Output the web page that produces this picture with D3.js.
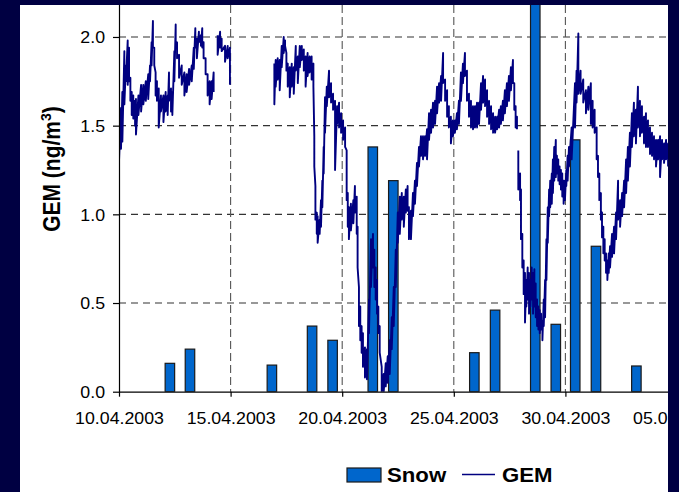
<!DOCTYPE html>
<html><head><meta charset="utf-8">
<script src="https://cdn.jsdelivr.net/npm/d3@7"></script>
<style>html,body{margin:0;padding:0;background:#fff;} svg{display:block;}</style>
</head><body>
<svg id="c" width="679" height="492"></svg>
<script>
// ---------- data ----------
const startDate = "10.04.2003";
const endDate = "05.05.2003";
const xTickLabels = ["10.04.2003","15.04.2003","20.04.2003","25.04.2003","30.04.2003","05.05.2003"];
const yTicks = [0, 0.5, 1.0, 1.5, 2.0];
const yTickLabels = ["0.0","0.5","1.0","1.5","2.0"];
const yMax = 2.2;

// Snow bars: days after 10.04.2003 00:00, value
const snowDay   = [2.28, 3.18, 6.85, 8.65, 9.57, 11.37, 12.29, 15.92, 16.85, 18.65, 19.57, 20.44, 21.37, 23.18];
const snowValue = [0.16, 0.24, 0.15, 0.37, 0.29, 1.38, 1.19, 0.22, 0.46, 2.50, 0.38, 1.42, 0.82, 0.145];

// GEM: days after 10.04.2003 00:00, upper and lower value of the noisy trace (null = data gap)
const gemDay = [
 0.00,0.09,0.15,0.24,0.31,0.39,0.45,0.51,0.57,0.64,0.72,0.76,0.87,0.99,1.09,1.20,1.31,1.39,1.46,1.52,1.58,1.64,1.70,1.78,1.88,1.99,2.09,2.18,2.24,2.33,2.39,2.48,2.54,2.60,2.69,2.81,2.93,3.03,3.14,3.26,3.35,3.42,3.49,3.58,3.67,3.73,3.79,3.88,3.97,4.06,4.15,4.24,
 4.33,
 4.42,4.53,4.60,4.75,4.87,4.97,
 5.90,
 6.96,7.02,7.11,7.20,7.29,7.38,7.44,7.50,7.56,7.65,7.74,7.83,7.92,8.01,8.10,8.19,8.28,8.36,8.45,8.54,8.63,8.71,8.75,8.80,8.86,8.90,8.99,9.05,9.11,9.17,9.23,9.31,9.41,9.50,9.59,9.68,9.77,9.86,9.95,10.04,10.13,
 10.20,10.25,10.30,10.39,10.50,10.57,10.65,10.69,10.75,10.81,10.87,10.93,11.02,11.11,11.20,11.29,11.38,11.44,11.50,11.56,11.62,11.68,11.77,11.86,11.95,12.04,12.13,12.22,12.31,12.40,12.49,12.58,12.67,12.76,12.85,12.93,
 12.99,13.08,13.17,13.26,13.35,13.44,13.53,13.62,13.71,13.80,13.89,13.98,14.07,14.16,14.25,14.34,14.43,14.52,14.61,14.70,14.78,14.87,14.96,15.05,15.14,15.23,15.32,15.41,15.50,15.59,15.68,15.77,15.86,15.95,16.04,16.13,16.22,16.31,16.40,16.49,16.58,16.67,16.76,16.85,16.94,17.03,17.11,17.20,17.29,17.38,17.47,17.56,17.65,17.71,17.77,17.83,
 17.86,
 17.89,17.97,18.01,18.07,18.13,18.19,18.25,18.31,18.37,18.43,18.49,18.55,18.61,18.67,18.73,18.79,18.85,18.91,18.97,19.03,19.09,19.15,19.21,19.27,19.32,19.39,19.44,19.50,19.57,19.62,19.68,19.74,19.80,19.86,19.92,19.98,20.04,20.10,20.16,20.28,20.43,20.50,20.58,20.68,20.80,20.92,21.03,21.14,21.22,21.31,21.40,21.46,21.52,21.59,21.64,21.70,21.76,21.82,21.88,21.94,22.00,22.09,22.18,22.27,22.36,22.45,22.54,22.63,22.72,22.80,22.89,22.98,23.07,23.16,23.25,23.34,23.43,23.52,23.61,23.70,23.79,23.88,23.97,24.06,24.15,24.24,24.33,24.42,24.51,24.60
];
const gemHi = [
 1.56,1.60,1.69,1.92,1.84,1.98,1.94,1.77,1.69,1.67,1.64,1.65,1.67,1.73,1.73,1.75,1.79,1.84,1.97,2.09,1.94,1.80,1.75,1.71,1.67,1.67,1.69,1.67,1.80,1.71,1.69,1.92,2.07,1.97,1.90,1.84,1.80,1.79,1.82,1.84,1.94,2.05,1.99,2.03,2.01,2.05,1.97,1.88,1.79,1.75,1.75,1.80,
 null,
 2.01,2.03,1.99,1.95,1.95,1.94,
 null,
 1.85,1.87,1.88,1.87,1.95,2.00,1.98,1.91,1.85,1.83,1.85,1.83,1.95,1.89,1.95,1.95,1.93,1.89,1.91,1.89,1.89,1.85,1.44,1.16,1.01,0.99,0.97,1.08,1.19,1.38,1.66,1.72,1.81,1.74,1.68,1.64,1.61,1.63,1.57,1.53,1.49,
 1.36,1.12,1.04,1.06,1.08,1.16,1.10,0.93,0.59,0.48,0.37,0.33,0.25,0.24,0.52,0.86,0.89,0.80,0.70,0.63,0.48,0.37,0.14,0.10,0.16,0.20,0.29,0.42,0.59,0.80,1.01,1.10,1.12,1.10,1.14,1.16,
 1.04,1.02,1.12,1.19,1.29,1.38,1.44,1.44,1.44,1.48,1.57,1.59,1.63,1.64,1.72,1.74,1.78,1.91,1.76,1.70,1.61,1.55,1.53,1.53,1.57,1.64,1.80,1.85,1.91,1.81,1.68,1.64,1.61,1.61,1.63,1.63,1.74,1.78,1.76,1.70,1.64,1.61,1.57,1.55,1.55,1.59,1.61,1.64,1.70,1.74,1.78,1.83,1.87,1.74,1.61,1.55,
 null,
 1.36,1.23,1.14,0.89,0.74,0.67,0.63,0.70,0.67,0.63,0.70,0.67,0.69,0.61,0.52,0.48,0.46,0.44,0.40,0.52,0.63,0.86,1.04,1.14,1.19,1.23,1.31,1.38,1.42,1.33,1.31,1.27,1.25,1.23,1.19,1.19,1.25,1.33,1.38,1.49,1.74,1.81,2.02,1.81,1.76,1.70,1.72,1.74,1.64,1.59,1.49,1.33,1.23,1.12,1.01,0.93,0.86,0.78,0.74,0.78,0.82,0.89,0.93,1.01,1.19,1.08,1.12,1.19,1.31,1.38,1.46,1.57,1.63,1.59,1.72,1.64,1.61,1.55,1.57,1.53,1.49,1.46,1.44,1.42,1.42,1.44,1.42,1.40,1.42,1.40
];
const gemLo = [
 1.30,1.37,1.41,1.62,1.75,1.73,1.75,1.64,1.56,1.54,1.50,1.45,1.56,1.58,1.62,1.64,1.65,1.75,1.84,1.94,1.84,1.67,1.64,1.49,1.58,1.52,1.58,1.56,1.64,1.58,1.56,1.75,1.95,1.88,1.77,1.73,1.67,1.69,1.73,1.75,1.82,1.94,1.88,1.97,1.95,1.94,1.88,1.79,1.67,1.62,1.65,1.69,
 null,
 1.90,1.94,1.92,1.86,1.88,1.73,
 null,
 1.62,1.72,1.76,1.70,1.83,1.91,1.95,1.81,1.72,1.66,1.72,1.68,1.81,1.74,1.83,1.87,1.81,1.72,1.78,1.80,1.76,1.72,1.27,0.97,0.89,0.84,0.89,0.93,1.04,1.23,1.46,1.61,1.66,1.63,1.59,1.25,1.51,1.49,1.46,1.42,1.38,
 1.08,0.93,0.86,0.91,0.95,1.01,0.89,0.70,0.37,0.29,0.22,0.14,0.08,0.07,0.33,0.59,0.70,0.59,0.52,0.44,0.33,0.22,0.00,0.00,0.03,0.05,0.10,0.24,0.37,0.59,0.84,0.89,0.97,0.93,1.01,1.02,
 0.86,0.86,0.99,1.06,1.16,1.27,1.33,1.31,1.33,1.31,1.42,1.46,1.49,1.51,1.57,1.63,1.64,1.74,1.64,1.55,1.49,1.40,1.44,1.46,1.48,1.51,1.64,1.74,1.78,1.64,1.55,1.49,1.48,1.49,1.49,1.51,1.59,1.63,1.61,1.55,1.51,1.48,1.46,1.46,1.48,1.49,1.51,1.53,1.57,1.61,1.64,1.70,1.74,1.59,1.49,1.48,
 null,
 1.14,1.08,0.86,0.70,0.55,0.39,0.48,0.52,0.44,0.48,0.52,0.44,0.48,0.42,0.37,0.35,0.33,0.35,0.29,0.37,0.42,0.63,0.84,0.99,1.04,1.06,1.12,1.19,1.21,1.23,1.19,1.17,1.14,1.10,1.06,1.08,1.16,1.19,1.27,1.31,1.49,1.63,1.68,1.68,1.63,1.57,1.59,1.51,1.49,1.46,1.31,1.21,1.08,0.97,0.87,0.78,0.74,0.67,0.63,0.67,0.70,0.76,0.78,0.86,0.97,0.93,0.99,1.04,1.12,1.19,1.27,1.38,1.44,1.40,1.49,1.44,1.46,1.40,1.38,1.38,1.34,1.33,1.31,1.27,1.31,1.21,1.31,1.29,1.31,1.27
];

// ---------- drawing ----------
const W = 679, H = 492;
const plot = {left: 119, right: 668, top: 5, bottom: 391.7};
const parse = d3.utcParse("%d.%m.%Y");
const t0 = parse(startDate), t1 = parse(endDate);
const dayToDate = d => new Date(t0.getTime() + d * 864e5);

const x = d3.scaleUtc().domain([t0, t1]).range([119, 677]);
const y = d3.scaleLinear().domain([0, yMax]).range([plot.bottom, 1.5]);

const svg = d3.select("#c");
svg.append("rect").attr("width", W).attr("height", H).attr("fill", "#fff");

const defs = svg.append("defs");
defs.append("clipPath").attr("id", "clip").append("rect")
  .attr("x", plot.left).attr("y", 0).attr("width", plot.right - plot.left).attr("height", plot.bottom);

// grid
const tickDates = xTickLabels.map(parse);
svg.append("g").selectAll("line").data(yTicks.filter(v => v > 0)).join("line")
  .attr("x1", plot.left).attr("x2", plot.right)
  .attr("y1", d => y(d)).attr("y2", d => y(d))
  .attr("stroke", "#333").attr("stroke-width", 1.1).attr("stroke-dasharray", "7,5");
svg.append("g").selectAll("line").data(tickDates.slice(1)).join("line")
  .attr("x1", d => x(d)).attr("x2", d => x(d))
  .attr("y1", plot.top).attr("y2", plot.bottom)
  .attr("stroke", "#555").attr("stroke-width", 1.1).attr("stroke-dasharray", "8,4");

const gPlot = svg.append("g").attr("clip-path", "url(#clip)");

// bars
const bw = 9.5;
gPlot.selectAll("rect.snow").data(snowDay.map((d, i) => ({t: dayToDate(d), v: snowValue[i]}))).join("rect")
  .attr("class", "snow")
  .attr("x", d => x(d.t) - bw / 2).attr("width", bw)
  .attr("y", d => y(d.v)).attr("height", d => y(0) - y(d.v))
  .attr("fill", "#0066CC").attr("stroke", "#1a1a1a").attr("stroke-width", 1.2);

// GEM line
const pts = [];
gemDay.forEach((d, i) => {
  if (gemHi[i] == null) { pts.push({t: dayToDate(d), v: null}); return; }
  pts.push({t: dayToDate(d), v: gemHi[i]});
  pts.push({t: dayToDate(d), v: gemLo[i]});
});
const line = d3.line().defined(d => d.v != null).x(d => x(d.t)).y(d => y(d.v));
gPlot.append("path").datum(pts).attr("d", line)
  .attr("fill", "none").attr("stroke", "#000080").attr("stroke-width", 1.9).attr("stroke-linejoin", "round");

// axes
const font = "'Liberation Sans', Arial, sans-serif";
const yAxis = svg.append("g").attr("transform", `translate(${plot.left},0)`)
  .call(d3.axisLeft(y).tickValues(yTicks).tickFormat((d, i) => yTickLabels[i]).tickSize(6).tickSizeOuter(0));
yAxis.select(".domain").attr("stroke", "#000").attr("stroke-width", 1.2);
yAxis.selectAll(".tick line").attr("stroke", "#000").attr("stroke-width", 1.2);
yAxis.selectAll(".tick text").attr("x", 0).attr("dy", "0.36em")
  .attr("transform", "translate(-14,0) scale(1.11,1)")
  .attr("font-family", font).attr("font-size", 16).attr("fill", "#000");

const xAxis = svg.append("g").attr("transform", `translate(0,${plot.bottom})`)
  .call(d3.axisBottom(x).tickValues(tickDates).tickFormat((d, i) => xTickLabels[i]).tickSize(5).tickSizeOuter(0));
xAxis.select(".domain").attr("stroke", "#000").attr("stroke-width", 1.2);
xAxis.selectAll(".tick line").attr("stroke", "#000").attr("stroke-width", 1.2);
xAxis.selectAll(".tick text").attr("y", 0).attr("dy", 0)
  .attr("transform", "translate(0,32.3) scale(1.11,1)")
  .attr("font-family", font).attr("font-size", 16).attr("fill", "#000");

// y title
const yt = svg.append("text")
  .attr("transform", "translate(59.5,169) scale(1.11,1) rotate(-90)")
  .attr("text-anchor", "middle").attr("font-family", font).attr("font-size", 21).attr("font-weight", "bold");
yt.append("tspan").text("GEM (ng/m");
yt.append("tspan").attr("dy", -8).attr("font-size", 14).text("3");
yt.append("tspan").attr("dy", 8).text(")");

// legend
const lg = svg.append("g");
lg.append("rect").attr("x", 347).attr("y", 468).attr("width", 34).attr("height", 14)
  .attr("fill", "#0066CC").attr("stroke", "#1a1a1a").attr("stroke-width", 1.2);
lg.append("text").attr("transform", "translate(387,482) scale(1.11,1)")
  .attr("font-family", font).attr("font-size", 20).attr("font-weight", "bold").text("Snow");
lg.append("line").attr("x1", 462).attr("x2", 495).attr("y1", 474.5).attr("y2", 474.5)
  .attr("stroke", "#000080").attr("stroke-width", 1.5);
lg.append("text").attr("transform", "translate(502,482) scale(1.11,1)")
  .attr("font-family", font).attr("font-size", 20).attr("font-weight", "bold").text("GEM");

// dark frame
const frame = "#000042";
svg.append("rect").attr("x", 0).attr("y", 0).attr("width", W).attr("height", 5).attr("fill", frame);
svg.append("rect").attr("x", 0).attr("y", 0).attr("width", 20).attr("height", H).attr("fill", frame);
svg.append("rect").attr("x", 668).attr("y", 0).attr("width", W - 668).attr("height", H).attr("fill", frame);
</script>
</body></html>
